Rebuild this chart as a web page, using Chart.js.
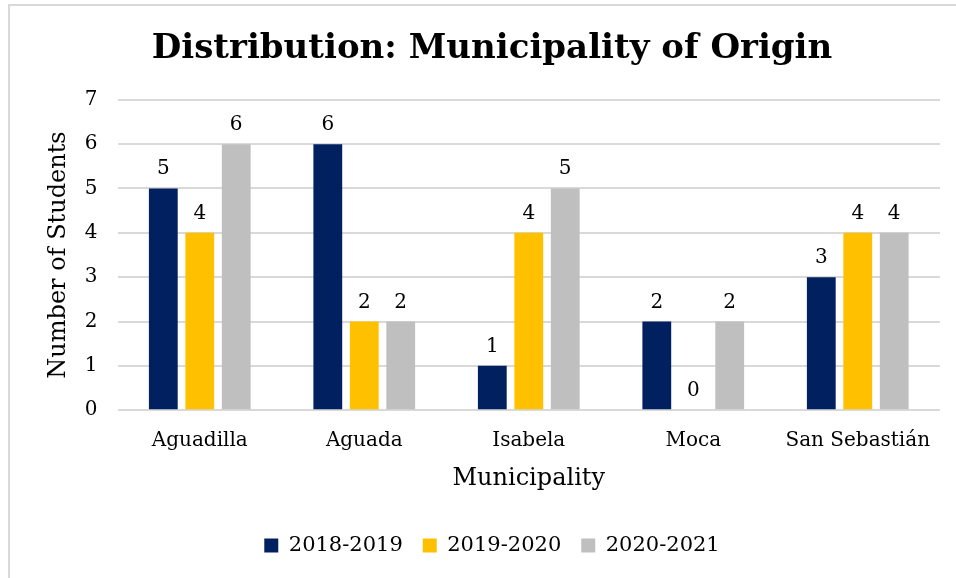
<!DOCTYPE html>
<html>
<head>
<meta charset="utf-8">
<script src="https://cdn.jsdelivr.net/npm/chart.js@4.4.1/dist/chart.umd.min.js"></script>
<style>
    html, body { margin: 0; padding: 0; background: #fff; }
    #frame {
        position: absolute; left: 8px; top: 4px; width: 960px; height: 600px;
        border-top: 2px solid #d9d9d9; border-left: 2px solid #d9d9d9;
    }
    #wrap { position: absolute; left: 0; top: 0; width: 956px; height: 578px; }
</style>
</head>
<body>
<div id="frame"></div>
<div id="wrap"><canvas id="originChart"></canvas></div>
<script>
/* =========================================================
   MUNICIPALITY OF ORIGIN - grouped bars per school year
========================================================= */

const municipalities = ['Aguadilla', 'Aguada', 'Isabela', 'Moca', 'San Sebastián'];
const years = ['2018-2019', '2019-2020', '2020-2021'];
const students2018 = [5, 6, 1, 2, 3];
const students2019 = [4, 2, 4, 0, 4];
const students2020 = [6, 2, 5, 2, 4];
const yTicks = [0, 1, 2, 3, 4, 5, 6, 7];

const SERIF = "'DejaVu Serif', 'Liberation Serif', serif";

// Numbers above each bar (no datalabels plugin available offline)
const barValueLabels = {
    id: 'barValueLabels',
    afterDatasetsDraw(chart) {
        const ctx = chart.ctx;
        ctx.save();
        ctx.font = "20px " + SERIF;
        ctx.fillStyle = '#000';
        ctx.textAlign = 'center';
        ctx.textBaseline = 'alphabetic';
        chart.data.datasets.forEach((ds, i) => {
            chart.getDatasetMeta(i).data.forEach((bar, j) => {
                ctx.fillText(String(ds.data[j]), bar.x, bar.y - 14);
            });
        });
        ctx.restore();
    }
};

function initOriginChart() {
    Chart.defaults.font.family = SERIF;
    Chart.defaults.color = '#000';

    const ctx = document.getElementById('originChart').getContext('2d');
    new Chart(ctx, {
        type: 'bar',
        data: {
            labels: municipalities,
            datasets: [
                { label: years[0], data: students2018, backgroundColor: '#002060' },
                { label: years[1], data: students2019, backgroundColor: '#FFC000' },
                { label: years[2], data: students2020, backgroundColor: '#BFBFBF' }
            ]
        },
        options: {
            responsive: true,
            maintainAspectRatio: false,
            animation: false,
            categoryPercentage: 0.665,
            barPercentage: 0.79,
            layout: { padding: { top: 29, right: 16, bottom: 12, left: 44 } },
            plugins: {
                title: {
                    display: true,
                    text: 'Distribution: Municipality of Origin',
                    font: { size: 34, weight: 'bold' },
                    color: '#000',
                    padding: { top: 0, bottom: 30 }
                },
                legend: {
                    position: 'bottom',
                    labels: {
                        font: { size: 21 },
                        boxWidth: 14,
                        boxHeight: 14,
                        padding: 20
                    }
                },
                tooltip: { enabled: false }
            },
            scales: {
                y: {
                    min: 0,
                    max: 7,
                    afterBuildTicks(axis) { axis.ticks = yTicks.map(v => ({ value: v })); },
                    grid: { color: '#d9d9d9', lineWidth: 2, drawTicks: false },
                    border: { display: false },
                    ticks: { font: { size: 20 }, padding: 20 },
                    title: { display: true, text: 'Number of Students', font: { size: 24 }, padding: { top: 0, bottom: -8 } }
                },
                x: {
                    grid: { display: false },
                    border: { display: false },
                    ticks: { font: { size: 20 }, padding: 11 },
                    title: { display: true, text: 'Municipality', font: { size: 24 }, padding: { top: 0, bottom: 22 } }
                }
            }
        },
        plugins: [barValueLabels]
    });
}

initOriginChart();
</script>
</body>
</html>
